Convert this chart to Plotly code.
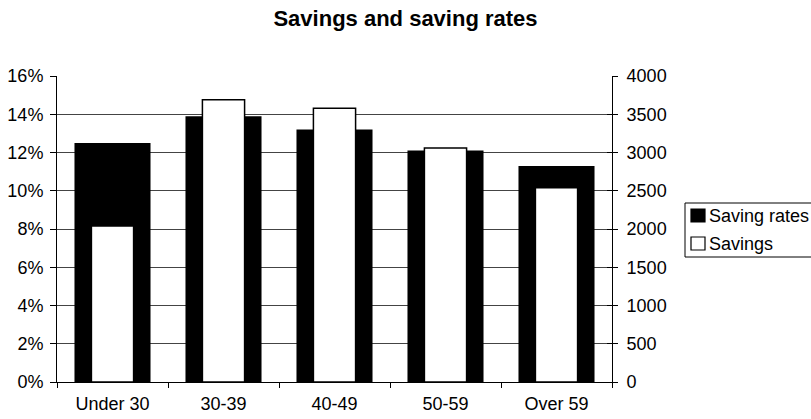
import plotly.graph_objects as go

# Age groups and the two series
age_groups = ["Under 30", "30-39", "40-49", "50-59", "Over 59"]
saving_rates = [12.5, 13.9, 13.2, 12.1, 11.3]      # percent, left axis
savings = [2040, 3690, 3580, 3060, 2540]           # amount, right axis

rate_ticks = [0, 2, 4, 6, 8, 10, 12, 14, 16]
rate_tick_labels = [f"{v}%" for v in rate_ticks]

series_names = ["Saving rates", "Savings"]
series_fills = ["black", "white"]

FONT = "Liberation Sans, Arial, Helvetica, sans-serif"

# plot area in pixels
W, H = 811, 419
L, R, T, B = 57, 199, 76, 37
PW, PH = W - L - R, H - T - B


def px_x(p):
    return (p - L) / PW


def px_y(p):
    return (H - B - p) / PH


fig = go.Figure()

fig.add_trace(go.Bar(
    name=series_names[0],
    x=age_groups,
    y=saving_rates,
    width=0.685,
    marker=dict(color=series_fills[0], line=dict(width=0)),
    yaxis="y",
    showlegend=False,
))

fig.add_trace(go.Bar(
    name=series_names[1],
    x=age_groups,
    y=savings,
    width=0.38,
    marker=dict(color=series_fills[1], line=dict(color="black", width=1.5)),
    yaxis="y2",
    showlegend=False,
))

# Invisible trace so the inner right-hand ticks get drawn
fig.add_trace(go.Scatter(x=[age_groups[0]], y=[0], yaxis="y3",
                         mode="markers", marker=dict(opacity=0),
                         showlegend=False, hoverinfo="skip"))

# Legend box with key squares and labels, placed to the right of the plot
shapes = [dict(type="rect", xref="paper", yref="paper",
               x0=px_x(685), x1=px_x(816), y0=px_y(257), y1=px_y(203),
               line=dict(color="black", width=1), fillcolor="white")]
annotations = []
for i, (name, fill) in enumerate(zip(series_names, series_fills)):
    cy = 216 + 28 * i
    shapes.append(dict(type="rect", xref="paper", yref="paper",
                       x0=px_x(691), x1=px_x(705), y0=px_y(cy + 6), y1=px_y(cy - 7),
                       line=dict(color="black", width=1.2), fillcolor=fill))
    annotations.append(dict(text=name, xref="paper", yref="paper",
                            x=px_x(707), y=px_y(cy), xanchor="left", yanchor="middle",
                            showarrow=False, font=dict(family=FONT, size=18, color="black")))

fig.update_layout(
    width=W,
    height=H,
    margin=dict(l=L, r=R, t=T, b=B, autoexpand=False),
    paper_bgcolor="white",
    plot_bgcolor="white",
    barmode="overlay",
    showlegend=False,
    font=dict(family=FONT, size=18, color="black"),
    title=dict(
        text="<b>Savings and saving rates</b>",
        x=0.5, xref="container", xanchor="center",
        y=1 - 18 / H, yref="container", yanchor="middle",
        font=dict(family=FONT, size=22, color="black"),
    ),
    xaxis=dict(
        type="category",
        showline=True, linecolor="black", linewidth=1,
        ticks="outside", tickson="boundaries", ticklen=5,
        tickcolor="black", showgrid=False,
        tickfont=dict(size=18), ticklabelstandoff=5,
    ),
    yaxis=dict(
        range=[0, 16],
        tickvals=rate_ticks,
        ticktext=rate_tick_labels,
        showline=True, linecolor="black", linewidth=1,
        ticks="outside", ticklen=6, tickcolor="black",
        showgrid=True, gridcolor="#444", gridwidth=1,
        zeroline=False,
        tickfont=dict(size=18), ticklabelstandoff=3,
    ),
    yaxis2=dict(
        range=[0, 4000],
        dtick=500,
        overlaying="y",
        side="right",
        showline=True, linecolor="black", linewidth=1,
        ticks="outside", ticklen=5, tickcolor="black",
        showgrid=False, zeroline=False,
        tickfont=dict(size=18), ticklabelstandoff=5,
    ),
    yaxis3=dict(
        range=[0, 4000],
        dtick=500,
        overlaying="y",
        side="right",
        ticks="inside", ticklen=5, tickcolor="black",
        showticklabels=False, showgrid=False, zeroline=False,
    ),
    shapes=shapes,
    annotations=annotations,
)

fig.write_html("out.html")
